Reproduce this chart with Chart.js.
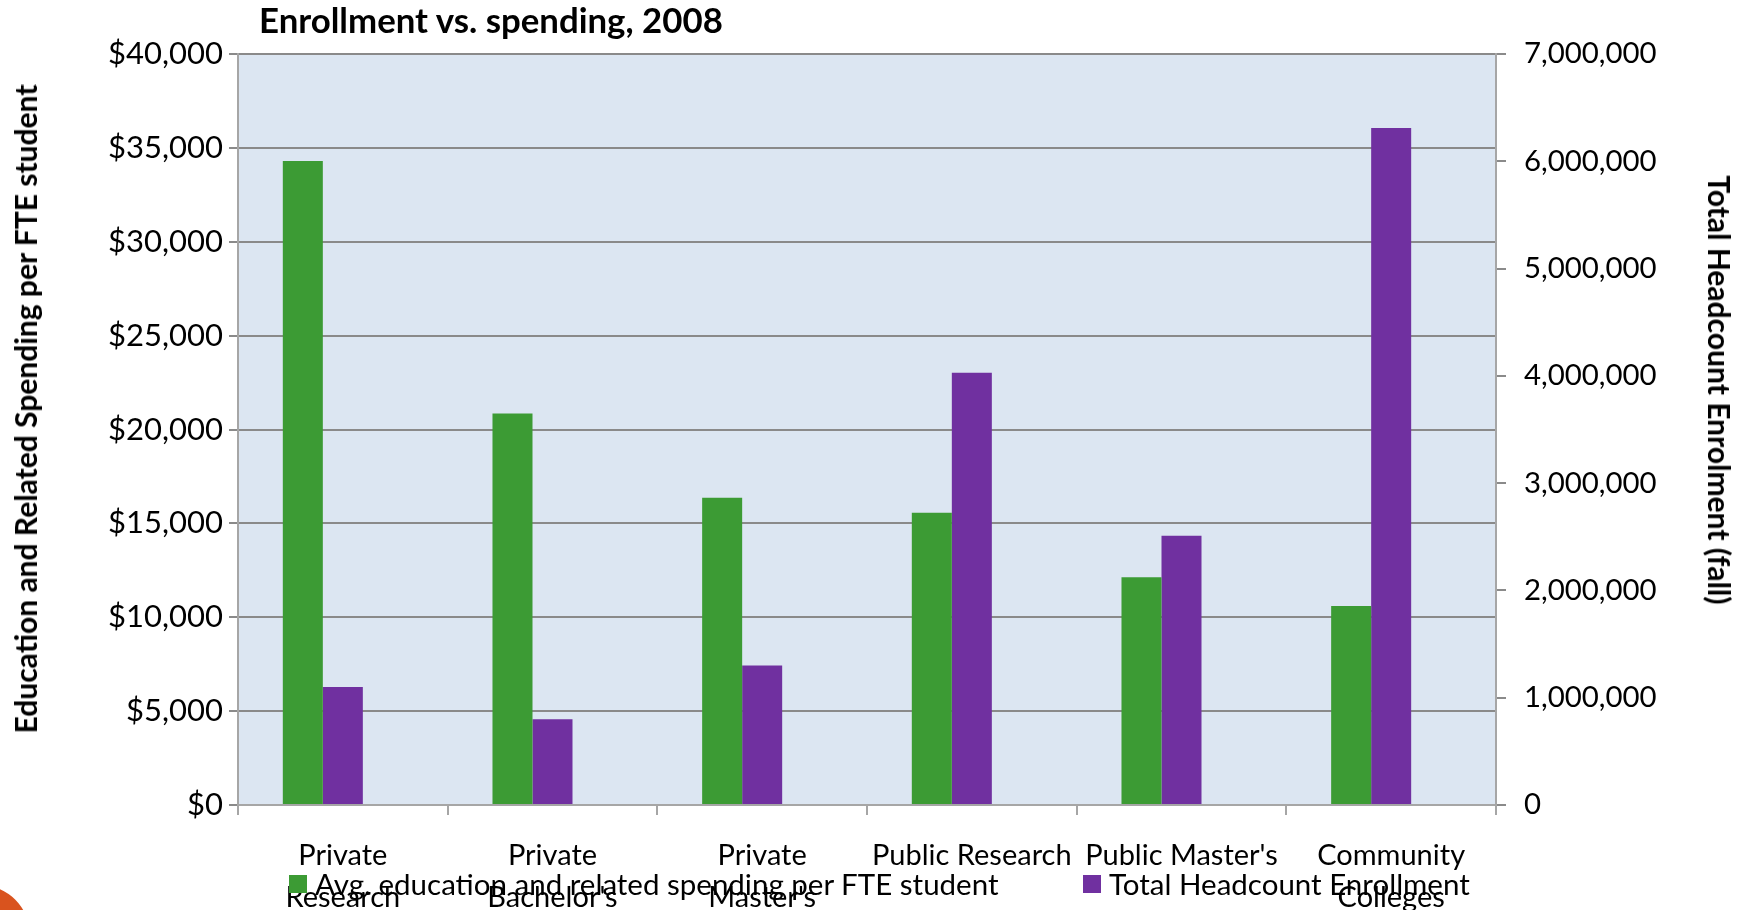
<!DOCTYPE html>
<html lang="en">

<head>
    <meta charset="utf-8" />
    <title>Enrollment vs. spending, 2008</title>
    <script src="https://cdn.jsdelivr.net/npm/chart.js@4.4.0/dist/chart.umd.min.js"></script>
    <style>
        html, body { margin: 0; padding: 0; background: #fff; overflow: hidden; }
        #wrap { position: relative; width: 1750px; height: 910px; font-family: Lato, "Noto Sans", sans-serif; color: #000; }
        #title { position: absolute; left: 259px; top: -2px; font-weight: bold; font-size: 34.8px; line-height: 44px; }
        .axis-title { position: absolute; font-weight: bold; font-size: 30px; line-height: 36px; white-space: nowrap; }
        #yTitle { left: 25px; top: 409px; transform: translate(-50%, -50%) rotate(-90deg); }
        #y1Title { left: 1720px; top: 390px; transform: translate(-50%, -50%) rotate(90deg); }
        #legend .item { position: absolute; top: 864px; display: flex; align-items: center; font-size: 29.5px; line-height: 40px; white-space: nowrap; }
        #legend .box { width: 18px; height: 18px; margin-right: 8px; }
        #dot { position: absolute; left: -70px; top: 885px; width: 100px; height: 100px; border-radius: 50%; background: #d9531e; }
    </style>
</head>

<body>
    <div id="wrap">
        <canvas id="myChart"></canvas>
        <div id="title">Enrollment vs. spending, 2008</div>
        <div class="axis-title" id="yTitle"></div>
        <div class="axis-title" id="y1Title"></div>
        <div id="legend"></div>
        <div id="dot"></div>
    </div>

    <script>
        // data
        const categories = [
            ["Private", "Research"],
            ["Private", "Bachelor's"],
            ["Private", "Master's"],
            "Public Research",
            "Public Master's",
            ["Community", "Colleges"],
        ];
        const spendingLabel = "Avg. education and related spending per FTE student";
        const spending = [34300, 20850, 16370, 15570, 12130, 10600];
        const enrollmentLabel = "Total Headcount Enrollment";
        const enrollment = [1100000, 800000, 1300000, 4030000, 2510000, 6310000];
        const spendingTicks = { min: 0, max: 40000, step: 5000 };
        const enrollmentTicks = { min: 0, max: 7000000, step: 1000000 };
        const spendingAxisTitle = "Education and Related Spending per FTE student";
        const enrollmentAxisTitle = "Total Headcount Enrolment (fall)";

        const GREEN = "#3c9b34";
        const PURPLE = "#7030a0";
        const GRID = "#8a8a8a";
        const AXIS = "#a6a6a6";
        const FONT = "Lato";

        let plotBg = {
            id: "plotBg",
            beforeDraw: (chart) => {
                const { ctx, chartArea: a } = chart;
                ctx.save();
                ctx.fillStyle = "#dce6f2";
                ctx.fillRect(a.left, a.top, a.right - a.left, a.bottom - a.top);
                ctx.restore();
            },
        };

        let buildLegend = (chart) => {
            const lefts = [289, 1083];
            const legend = document.getElementById("legend");
            chart.data.datasets.filter((ds) => ds.label).forEach((ds, i) => {
                let item = document.createElement("div");
                item.className = "item";
                item.style.left = lefts[i] + "px";
                let box = document.createElement("span");
                box.className = "box";
                box.style.background = ds.backgroundColor;
                item.appendChild(box);
                item.appendChild(document.createTextNode(ds.label));
                legend.appendChild(item);
            });
        };

        let showChart = () => {
            const ctx = document.getElementById("myChart");
            document.getElementById("yTitle").textContent = spendingAxisTitle;
            document.getElementById("y1Title").textContent = enrollmentAxisTitle;

            const myChart = new Chart(ctx, {
                type: "bar",
                data: {
                    labels: categories,
                    datasets: [
                        { label: spendingLabel, data: spending, backgroundColor: GREEN, yAxisID: "y" },
                        { label: enrollmentLabel, data: enrollment, backgroundColor: PURPLE, yAxisID: "y1" },
                        // empty slot, Excel leaves room for it so pairs sit left of centre
                        { label: "", data: [], backgroundColor: "rgba(0,0,0,0)", yAxisID: "y" },
                    ],
                },
                options: {
                    responsive: true,
                    maintainAspectRatio: false,
                    animation: false,
                    layout: { padding: { top: 54, left: 0, right: 0, bottom: 0 } },
                    datasets: { bar: { categoryPercentage: 0.5725, barPercentage: 1 } },
                    plugins: {
                        legend: { display: false },
                        title: { display: false },
                        tooltip: { enabled: false },
                    },
                    scales: {
                        x: {
                            afterFit: (s) => { s.height = 105; },
                            grid: { drawOnChartArea: false, tickLength: 10, color: AXIS, lineWidth: 2 },
                            border: { color: AXIS, width: 2 },
                            ticks: { font: { family: FONT, size: 29, lineHeight: 1.45 }, color: "#000", padding: 20, maxRotation: 0, autoSkip: false },
                        },
                        y: {
                            position: "left",
                            min: spendingTicks.min,
                            max: spendingTicks.max,
                            afterFit: (s) => { s.width = 238; },
                            grid: { color: GRID, lineWidth: 2, tickLength: 9 },
                            border: { color: AXIS, width: 2 },
                            ticks: {
                                stepSize: spendingTicks.step,
                                font: { family: FONT, size: 31 },
                                color: "#000",
                                padding: 6,
                                callback: (v) => "$" + v.toLocaleString("en-US"),
                            },
                        },
                        y1: {
                            position: "right",
                            min: enrollmentTicks.min,
                            max: enrollmentTicks.max,
                            afterFit: (s) => { s.width = 254; },
                            grid: { drawOnChartArea: false, color: GRID, lineWidth: 2, tickLength: 10 },
                            border: { color: AXIS, width: 2 },
                            ticks: {
                                stepSize: enrollmentTicks.step,
                                font: { family: FONT, size: 29.4 },
                                color: "#000",
                                padding: 18,
                                callback: (v) => v.toLocaleString("en-US"),
                            },
                        },
                    },
                },
                plugins: [plotBg],
            });

            buildLegend(myChart);
        };

        showChart();
    </script>
</body>

</html>
